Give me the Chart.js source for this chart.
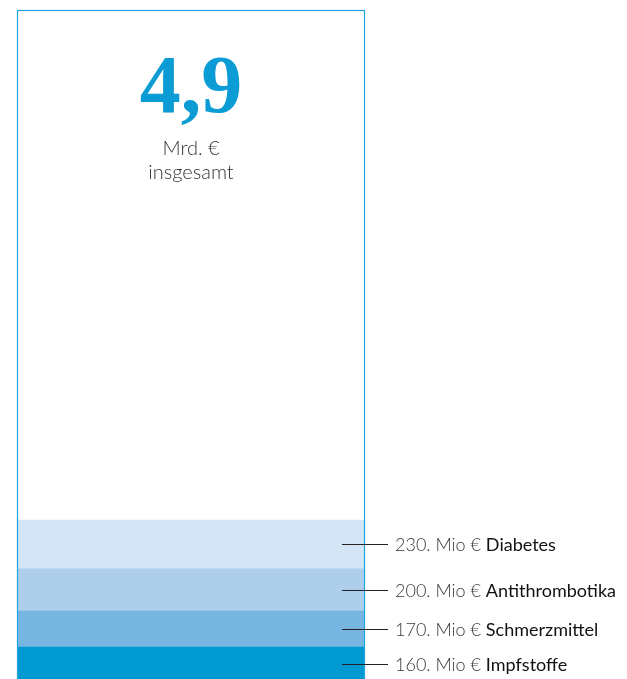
<!DOCTYPE html>
<html>
<head>
<meta charset="utf-8">
<script src="https://cdn.jsdelivr.net/npm/chart.js@4"></script>
<style>
  html, body { margin: 0; padding: 0; background: #fff; overflow: hidden; }
  #wrap { width: 627px; height: 681px; }
</style>
</head>
<body>
<div id="wrap"><canvas id="chart"></canvas></div>
<script>
// Daten
const categories = ['Impfstoffe', 'Schmerzmittel', 'Antithrombotika', 'Diabetes'];
const values = [160, 170, 200, 230]; // Mio €
const colors = ['#0099d2', '#77b6e0', '#aecfec', '#d4e5f5'];
const totalText = '4,9';
const totalUnit = ['Mrd. €', 'insgesamt'];
const axisMax = 3170;

// Rahmen und Beschriftungen
const decoPlugin = {
    id: 'deco',
    afterDatasetsDraw(chart) {
        const ctx = chart.ctx;
        const area = chart.chartArea;
        const y = chart.scales.y;
        ctx.save();
        ctx.strokeStyle = '#1ea5de';
        ctx.lineWidth = 1.2;
        ctx.strokeRect(area.left + 0.5, area.top + 0.5, area.right - area.left - 1, area.bottom - area.top + 5);

        const cx = (area.left + area.right) / 2;
        ctx.textAlign = 'center';
        ctx.textBaseline = 'alphabetic';
        ctx.fillStyle = '#0b9bd5';
        ctx.font = 'bold 82px "Liberation Serif"';
        ctx.fillText(totalText, cx, 112);
        ctx.fillStyle = '#333';
        ctx.font = '300 20px Lato';
        ctx.fillText(totalUnit[0], cx, 155);
        ctx.fillText(totalUnit[1], cx, 179);

        let base = 0;
        values.forEach((v, i) => {
            const yc = (y.getPixelForValue(base) + y.getPixelForValue(base + v)) / 2;
            base += v;
            ctx.strokeStyle = '#222';
            ctx.lineWidth = 1;
            ctx.beginPath();
            ctx.moveTo(342, Math.round(yc) + 0.5);
            ctx.lineTo(388, Math.round(yc) + 0.5);
            ctx.stroke();
            ctx.textAlign = 'left';
            ctx.textBaseline = 'middle';
            ctx.font = '300 18px Lato';
            ctx.fillStyle = '#3a3a3a';
            const first = v + '. Mio € ';
            ctx.fillText(first, 395, yc + 1);
            const w = ctx.measureText(first).width;
            ctx.font = '18px Lato';
            ctx.fillStyle = '#111';
            ctx.fillText(categories[i], 395 + w, yc + 1);
        });
        ctx.restore();
    }
};

new Chart(document.getElementById('chart'), {
    type: 'bar',
    data: {
        labels: [''],
        datasets: categories.map((c, i) => ({
            label: c,
            data: [values[i]],
            backgroundColor: colors[i],
            borderWidth: 0,
            categoryPercentage: 1,
            barPercentage: 1
        }))
    },
    options: {
        responsive: true,
        maintainAspectRatio: false,
        animation: false,
        layout: { padding: { left: 17, right: 262, top: 10, bottom: 0 } },
        plugins: { legend: { display: false }, tooltip: { enabled: false } },
        scales: {
            x: { stacked: true, display: false },
            y: { stacked: true, display: false, min: 0, max: axisMax }
        }
    },
    plugins: [decoPlugin]
});
</script>
</body>
</html>
